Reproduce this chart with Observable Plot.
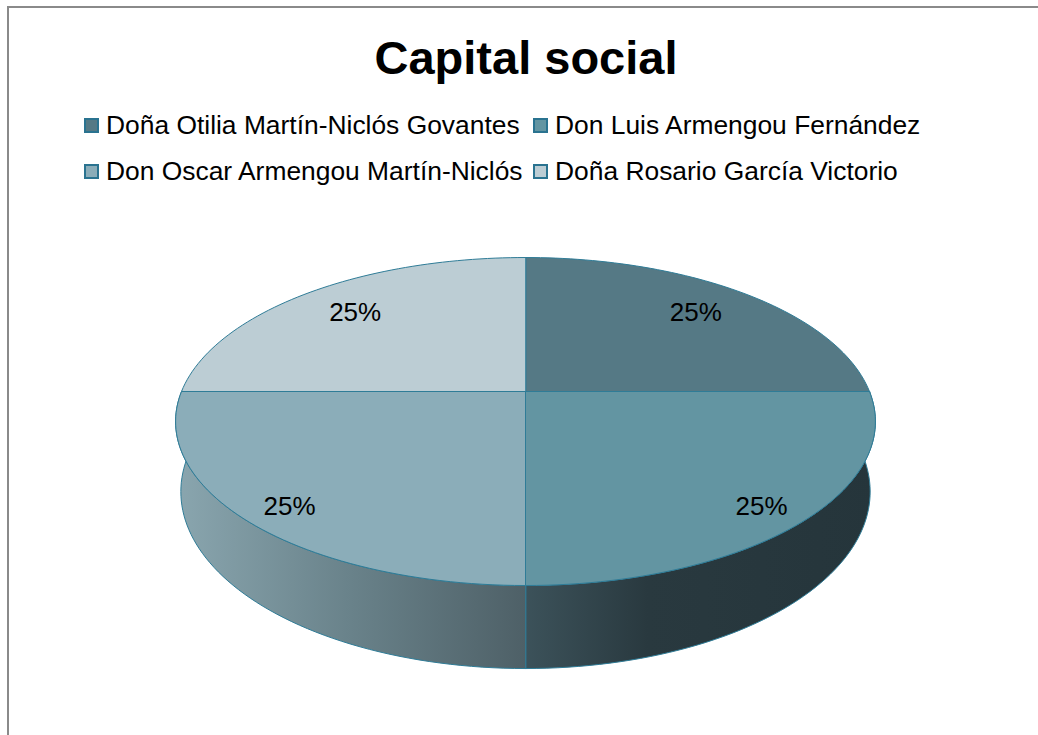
<!DOCTYPE html>
<html>
<head>
<meta charset="utf-8">
<script src="https://cdn.jsdelivr.net/npm/d3@7"></script>
<script src="https://cdn.jsdelivr.net/npm/@observablehq/plot@0.6"></script>
<style>
  html, body { margin: 0; padding: 0; background: #fff; overflow: hidden; width: 1038px; height: 735px; }
  body { font-family: "Liberation Sans", Arial, sans-serif; position: relative; }
  #frame { position: absolute; left: 7px; top: 6px; width: 1200px; height: 900px;
           border-left: 2px solid #8a8a8a; border-top: 2px solid #8a8a8a; }
  #title { position: absolute; left: 7px; top: 34px; width: 1038px; text-align: center;
           font-weight: bold; font-size: 47px; line-height: 47px; color: #000; }
  #legend { position: absolute; left: 84px; top: 102px; display: grid;
            grid-template-columns: 449px auto; grid-auto-rows: 46px; }
  .item { display: flex; align-items: center; font-size: 26.4px; color: #000; white-space: nowrap; }
  .sw { width: 15px; height: 15px; box-sizing: border-box; border: 2px solid #2a7390; margin-right: 7px; flex: none; }
  #chart { position: absolute; left: 0; top: 200px; }
</style>
</head>
<body>
<div id="frame"></div>
<div id="title">Capital social</div>
<div id="legend"></div>
<div id="chart"></div>
<script>
// ---- data ----
const owners = [
  "Doña Otilia Martín-Niclós Govantes",
  "Don Luis Armengou Fernández",
  "Don Oscar Armengou Martín-Niclós",
  "Doña Rosario García Victorio"
];
const shares = [25, 25, 25, 25];

// ---- styles ----
const topColors = ["#557985", "#6395a2", "#8badb9", "#bccdd4"];
const sideStops = [
  [["0", "#3c525a"], ["1", "#26363c"]],
  [["0", "#3c525a"], ["0.35", "#29393f"], ["1", "#25353b"]],
  [["0", "#8aa6af"], ["0.5", "#69828a"], ["1", "#4e6067"]],
  [["0", "#8aa6af"], ["1", "#4e6067"]]
];
const edge = "#2f7c97";

// legend
const leg = document.getElementById("legend");
owners.forEach((name, i) => {
  const it = document.createElement("div");
  it.className = "item";
  const sw = document.createElement("span");
  sw.className = "sw";
  sw.style.background = topColors[i];
  it.appendChild(sw);
  it.appendChild(document.createTextNode(name));
  leg.appendChild(it);
});

// ---- 3D perspective pie geometry ----
const total = d3.sum(shares);
const arcs = d3.pie().sort(null).value(d => d)(shares);
const persp = 0.183;   // depth foreshortening
const depthU = 0.428;  // extrusion height (in y units at w=1)
const shrink = 0.985;  // bottom face convergence

function proj(alpha, r, bottom) {
  const X = r * Math.sin(alpha), Z = r * Math.cos(alpha);
  const w = 1 + persp * Z;
  return bottom
    ? {u: X / w * shrink, v: Z / w - depthU / w}
    : {u: X / w, v: Z / w};
}
function sample(a0, a1, bottom) {
  const n = Math.max(2, Math.ceil((a1 - a0) / (Math.PI / 120)));
  const pts = [];
  for (let k = 0; k <= n; k++) pts.push(proj(a0 + (a1 - a0) * k / n, 1, bottom));
  return pts;
}

const marks = [];
// sides (front half only)
arcs.forEach((a, i) => {
  const s = Math.max(a.startAngle, Math.PI / 2);
  const e = Math.min(a.endAngle, 3 * Math.PI / 2);
  if (s >= e) return;
  const pts = sample(s, e, false).concat(sample(s, e, true).reverse());
  marks.push(Plot.line(pts, {x: "u", y: "v", curve: "linear-closed",
    fill: `url(#side${i})`, stroke: edge, strokeWidth: 1}));
});
// top faces
arcs.forEach((a, i) => {
  const pts = [proj(0, 0, false)].concat(sample(a.startAngle, a.endAngle, false));
  marks.push(Plot.line(pts, {x: "u", y: "v", curve: "linear-closed",
    fill: topColors[i], stroke: edge, strokeWidth: 1}));
});
// labels
const fmt = d3.format(".0%");
const labelData = arcs.map(a => {
  const mid = (a.startAngle + a.endAngle) / 2;
  const front = Math.cos(mid) < 0;
  const p = proj(mid, front ? 0.862 : 0.77, false);
  return {u: p.u, v: p.v, front, text: fmt(a.value / total)};
});
const textOpts = {x: "u", y: "v", text: "text", fontSize: 26, fill: "#000",
  fontFamily: "Liberation Sans, Arial, sans-serif"};
marks.push(Plot.text(labelData.filter(d => !d.front), {...textOpts, dy: 0}));
marks.push(Plot.text(labelData.filter(d => d.front), {...textOpts, dy: 6}));

const svg = Plot.plot({
  width: 1038, height: 535, margin: 0,
  x: {domain: [-1, 1], range: [181, 869], axis: null},
  y: {domain: [-1, 1], range: [349.5, 32.5], axis: null},
  style: {background: "transparent", overflow: "visible"},
  marks
});

const defs = d3.select(svg).insert("defs", ":first-child");
sideStops.forEach((stops, i) => {
  const g = defs.append("linearGradient").attr("id", `side${i}`)
    .attr("x1", 0).attr("x2", 1).attr("y1", 0).attr("y2", 0);
  stops.forEach(([o, c]) => g.append("stop").attr("offset", o).attr("stop-color", c));
});

document.getElementById("chart").appendChild(svg);
</script>
</body>
</html>
